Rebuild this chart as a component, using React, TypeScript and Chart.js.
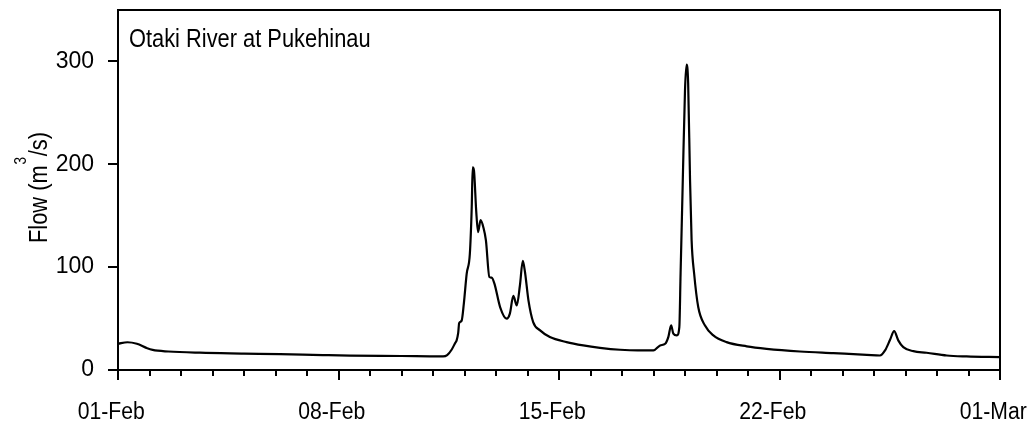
import React, { useEffect, useRef } from 'react';
import { Chart, registerables } from 'chart.js';

Chart.register(...registerables);

// Days since 01-Feb
const dayOffsets = [
  0, 0.3, 0.6, 0.9, 1.1, 1.6, 2.6, 4.0, 5.14, 6.5, 7.37, 9.0, 9.9, 10.32, 10.45,
  10.59, 10.7, 10.75, 10.8, 10.83, 10.91, 10.98, 11.07, 11.17, 11.23, 11.26, 11.3,
  11.37, 11.43, 11.51, 11.6, 11.68, 11.79, 11.86, 11.95, 12.13, 12.34, 12.44, 12.55,
  12.66, 12.76, 12.85, 12.92, 13.03, 13.18, 13.4, 13.71, 14.24, 14.77, 15.3, 15.94,
  16.5, 17.0, 17.21, 17.37, 17.47, 17.56, 17.63, 17.74, 17.82, 17.86, 17.93, 18.0,
  18.05, 18.1, 18.16, 18.21, 18.29, 18.42, 18.63, 18.9, 19.32, 19.96, 20.59, 21.65,
  22.71, 23.77, 24.19, 24.35, 24.51, 24.64, 24.77, 24.93, 25.25, 25.67, 26.31, 26.94, 28.0,
];
// Flow (m3/s)
const flowValues = [
  25.5, 27, 25.5, 21.5, 19.5, 18, 16.8, 16, 15.4, 14.5, 14, 13.6, 13.3, 13.2, 14.5,
  19.7, 26, 28.8, 36, 45.6, 48, 64.8, 93.7, 113, 158.7, 197, 194,
  155.5, 134, 145.7, 138.6, 126, 90.4, 89.8, 84, 61.2, 49.9, 54.8, 72,
  62.9, 82.4, 106, 95.3, 67.7, 46.6, 38.5, 32, 27.1, 23.9, 21.6, 19.7,
  19, 19, 23.9, 25.5, 32, 43.4, 35.3, 33.6, 41.7, 93.8, 184.7, 272,
  296.8, 279, 184.7, 126, 93.8, 61.2, 43.4, 33.6, 27.1, 23.0, 20.6, 18,
  16.4, 14.8, 14.1, 19, 29.4, 37.8, 28.8, 22.2, 18.3, 16.8, 14.1, 13.2, 12.5,
];

const xTickValues = [0, 7, 14, 21, 28];
const xTickLabels = ['01-Feb', '08-Feb', '15-Feb', '22-Feb', '01-Mar'];
const minorTickDays = Array.from({ length: 29 }, (_, i) => i);
const yTickValues = [0, 100, 200, 300];
const yMin = 0;
const yMax = 350;
const chartTitle = 'Otaki River at Pukehinau';
const yLabelMain = 'Flow (m';
const yLabelSup = '3';
const yLabelEnd = '/s)';

const FONT = '"Liberation Sans Narrow", "Arial Narrow", "Liberation Sans", Arial, sans-serif';
const SQUEEZE = 0.84;
const TICK_SQUEEZE = 0.92;

const decorPlugin = {
  id: 'decor',
  afterDraw(chart: any) {
    const { ctx, chartArea: a, scales } = chart;
    const xs = scales.x;
    ctx.save();
    ctx.strokeStyle = '#000';
    ctx.lineWidth = 2;
    ctx.beginPath();
    for (const d of minorTickDays) {
      if (xTickValues.includes(d)) continue;
      const px = Math.round(xs.getPixelForValue(d));
      ctx.moveTo(px, a.bottom);
      ctx.lineTo(px, a.bottom + 6);
    }
    ctx.stroke();
    // top and right frame
    ctx.beginPath();
    ctx.moveTo(a.left, a.top);
    ctx.lineTo(a.right, a.top);
    ctx.lineTo(a.right, a.bottom);
    ctx.stroke();
    ctx.restore();

    // x tick labels (condensed)
    ctx.save();
    ctx.fillStyle = '#000';
    ctx.textAlign = 'center';
    ctx.textBaseline = 'alphabetic';
    ctx.font = `23px ${FONT}`;
    xTickValues.forEach((v, i) => {
      const px = xs.getPixelForValue(v);
      ctx.save();
      ctx.translate(px - 6.8, a.bottom + 48.5);
      ctx.scale(TICK_SQUEEZE, 1);
      ctx.fillText(xTickLabels[i], 0, 0);
      ctx.restore();
    });
    ctx.restore();

    // title (condensed)
    ctx.save();
    ctx.fillStyle = '#000';
    ctx.textAlign = 'left';
    ctx.textBaseline = 'alphabetic';
    ctx.font = `26px ${FONT}`;
    ctx.translate(a.left + 11, a.top + 37);
    ctx.scale(SQUEEZE, 1);
    ctx.fillText(chartTitle, 0, 0);
    ctx.restore();

    // y label (rotated, condensed, with superscript)
    ctx.save();
    ctx.fillStyle = '#000';
    ctx.textAlign = 'left';
    ctx.textBaseline = 'alphabetic';
    ctx.translate(47, 243);
    ctx.rotate(-Math.PI / 2);
    ctx.scale(SQUEEZE, 1);
    ctx.font = `26px ${FONT}`;
    ctx.fillText(yLabelMain, 0, 0);
    let w = ctx.measureText(yLabelMain).width;
    ctx.font = `16px ${FONT}`;
    ctx.fillText(yLabelSup, w + 1, -21);
    w += ctx.measureText(yLabelSup).width + 2;
    ctx.font = `26px ${FONT}`;
    ctx.fillText(yLabelEnd, w, 0);
    ctx.restore();
  },
};

export default function App() {
  const ref = useRef<HTMLCanvasElement | null>(null);
  useEffect(() => {
    document.body.style.margin = '0';
    const canvas = ref.current;
    if (!canvas) return;
    const points = dayOffsets.map((d, i) => ({ x: d, y: flowValues[i] }));
    const chart = new Chart(canvas, {
      type: 'line',
      data: {
        datasets: [
          {
            data: points,
            borderColor: '#000',
            borderWidth: 2.2,
            pointRadius: 0,
            fill: false,
            cubicInterpolationMode: 'monotone',
          },
        ],
      },
      options: {
        animation: false,
        responsive: false,
        events: [],
        layout: { padding: { top: 10, right: 32, left: 0, bottom: 0 } },
        plugins: { legend: { display: false }, tooltip: { enabled: false }, title: { display: false } },
        scales: {
          x: {
            type: 'linear',
            min: 0,
            max: 28,
            afterFit: (s: any) => {
              s.height = 56;
              s.paddingLeft = 0;
              s.paddingRight = 0;
            },
            afterBuildTicks: (s: any) => { s.ticks = xTickValues.map((v) => ({ value: v })); },
            ticks: { display: false },
            grid: { drawOnChartArea: false, drawTicks: true, tickLength: 10, color: '#000', lineWidth: 2 },
            border: { display: true, color: '#000', width: 2 },
          },
          y: {
            type: 'linear',
            min: yMin,
            max: yMax,
            afterFit: (s: any) => {
              s.width = 118;
              s.paddingTop = 0;
              s.paddingBottom = 0;
            },
            afterBuildTicks: (s: any) => { s.ticks = yTickValues.map((v) => ({ value: v })); },
            ticks: {
              padding: 14,
              color: '#000',
              font: { family: FONT, size: 23 },
            },
            grid: { drawOnChartArea: false, drawTicks: true, tickLength: 10, color: '#000', lineWidth: 2 },
            border: { display: true, color: '#000', width: 2 },
          },
        },
      },
      plugins: [decorPlugin],
    });
    return () => chart.destroy();
  }, []);
  return (
    <div style={{ width: 1032, height: 426, position: 'relative', background: '#fff' }}>
      <canvas ref={ref} width={1032} height={426} style={{ width: 1032, height: 426, display: 'block' }} />
    </div>
  );
}
